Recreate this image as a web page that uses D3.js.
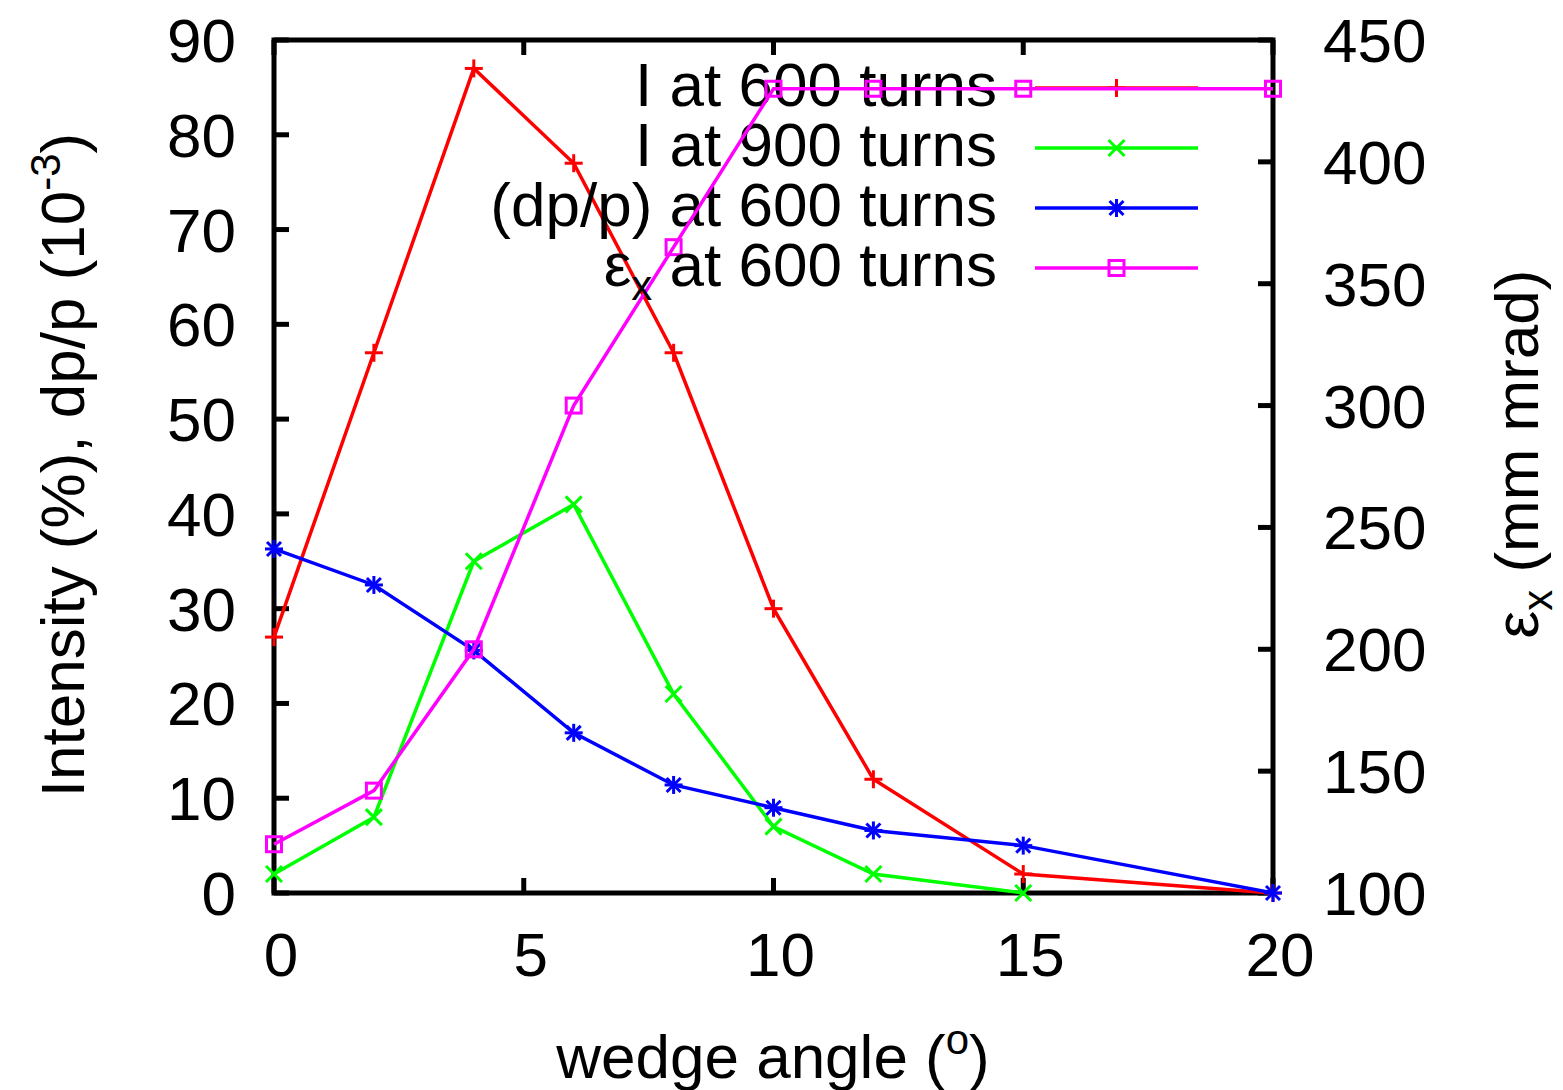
<!DOCTYPE html>
<html>
<head>
<meta charset="utf-8">
<script src="https://cdn.jsdelivr.net/npm/d3@7"></script>
<style>
  html, body { margin: 0; padding: 0; background: #fff; }
  svg { display: block; }
  text { font-family: "Liberation Sans", Arial, sans-serif; fill: #000; }
</style>
</head>
<body>
<svg id="chart" width="1563" height="1090"></svg>
<script>
// wedge angle (degrees)
const angles = [0, 2, 4, 6, 8, 10, 12, 15, 20];
// Intensity at 600 turns (%)
const intensity600 = [27, 57, 87, 77, 57, 30, 12, 2, 0];
// Intensity at 900 turns (%)
const intensity900 = [2, 8, 35, 41, 21, 7, 2, 0];
// momentum spread dp/p at 600 turns (1e-3)
const dpp600 = [36.3, 32.5, 25.6, 16.9, 11.4, 9.0, 6.6, 5.0, 0];
// horizontal emittance at 600 turns (mm mrad), right axis
const emit600 = [120, 142, 200, 300, 365, 430, 430, 430, 430];

const xTicks = [0, 5, 10, 15, 20];
const yTicks = [0, 10, 20, 30, 40, 50, 60, 70, 80, 90];
const y2Ticks = [100, 150, 200, 250, 300, 350, 400, 450];

const seriesNames = ["I at 600 turns", "I at 900 turns", "(dp/p) at 600 turns", "at 600 turns"];
const seriesColors = ["#ff0000", "#00ff00", "#0000ff", "#ff00ff"];

const svg = d3.select("#chart");
const plotL = 274, plotR = 1273, plotT = 40, plotB = 893;

const x = d3.scaleLinear().domain([0, 20]).range([plotL, plotR]);
const y = d3.scaleLinear().domain([0, 90]).range([plotB, plotT]);
const y2 = d3.scaleLinear().domain([100, 450]).range([plotB, plotT]);

const FS = 62;
const SUB = 42;
const tickLen = 15;

// tick labels
svg.append("g").selectAll("text").data(xTicks).join("text")
  .attr("x", d => x(d) + 7).attr("y", 976)
  .attr("text-anchor", "middle").attr("font-size", FS).text(d => d);

svg.append("g").selectAll("text").data(yTicks).join("text")
  .attr("x", 236).attr("y", d => y(d) + 22)
  .attr("text-anchor", "end").attr("font-size", FS).text(d => d);

svg.append("g").selectAll("text").data(y2Ticks).join("text")
  .attr("x", 1323).attr("y", d => y2(d) + 22)
  .attr("text-anchor", "start").attr("font-size", FS).text(d => d);

// inward tick marks
const ticks = svg.append("g").attr("stroke", "#000").attr("stroke-width", 5);
xTicks.forEach(d => {
  ticks.append("line").attr("x1", x(d)).attr("x2", x(d)).attr("y1", plotB).attr("y2", plotB - tickLen);
  ticks.append("line").attr("x1", x(d)).attr("x2", x(d)).attr("y1", plotT).attr("y2", plotT + tickLen);
});
yTicks.forEach(d => {
  ticks.append("line").attr("x1", plotL).attr("x2", plotL + tickLen).attr("y1", y(d)).attr("y2", y(d));
});
y2Ticks.forEach(d => {
  ticks.append("line").attr("x1", plotR).attr("x2", plotR - tickLen).attr("y1", y2(d)).attr("y2", y2(d));
});

// frame
svg.append("rect").attr("x", plotL).attr("y", plotT)
  .attr("width", plotR - plotL).attr("height", plotB - plotT)
  .attr("fill", "none").attr("stroke", "#000").attr("stroke-width", 5);

// axis titles
const xl = svg.append("text").attr("x", 773).attr("y", 1078)
  .attr("text-anchor", "middle").attr("font-size", FS);
xl.append("tspan").text("wedge angle (");
xl.append("tspan").attr("dy", -24).attr("font-size", SUB).text("o");
xl.append("tspan").attr("dy", 24).text(")");

const yl = svg.append("text")
  .attr("transform", "translate(84,465) rotate(-90)")
  .attr("text-anchor", "middle").attr("font-size", FS);
yl.append("tspan").text("Intensity (%), dp/p (10");
yl.append("tspan").attr("dy", -24).attr("font-size", SUB).text("-3");
yl.append("tspan").attr("dy", 24).text(")");

const y2l = svg.append("text")
  .attr("transform", "translate(1538,454) rotate(-90)")
  .attr("text-anchor", "middle").attr("font-size", FS);
y2l.append("tspan").text("\u03b5");
y2l.append("tspan").attr("dy", 14).attr("font-size", SUB).text("x");
y2l.append("tspan").attr("dy", -14).text(" (mm mrad)");

// marker shapes
function marker(g, kind, color, cx, cy) {
  const s = 9;
  const m = g.append("g").attr("stroke", color).attr("stroke-width", 3).attr("fill", "none");
  if (kind === "plus" || kind === "star") {
    m.append("line").attr("x1", cx - s).attr("x2", cx + s).attr("y1", cy).attr("y2", cy);
    m.append("line").attr("x1", cx).attr("x2", cx).attr("y1", cy - s).attr("y2", cy + s);
  }
  if (kind === "cross" || kind === "star") {
    const c = kind === "star" ? 7 : 8;
    m.append("line").attr("x1", cx - c).attr("x2", cx + c).attr("y1", cy - c).attr("y2", cy + c);
    m.append("line").attr("x1", cx - c).attr("x2", cx + c).attr("y1", cy + c).attr("y2", cy - c);
  }
  if (kind === "square") {
    m.append("rect").attr("x", cx - 7.5).attr("y", cy - 7.5).attr("width", 15).attr("height", 15);
  }
}

const series = [
  { values: intensity600, scale: y, kind: "plus" },
  { values: intensity900, scale: y, kind: "cross" },
  { values: dpp600, scale: y, kind: "star" },
  { values: emit600, scale: y2, kind: "square" }
];

const plot = svg.append("g");
const legendTextX = 997, legendLineX1 = 1035, legendLineX2 = 1198;
const legendRows = [88, 148, 208, 268];

series.forEach((s, i) => {
  const pts = s.values.map((v, j) => [angles[j], v]);
  const line = d3.line().x(d => x(d[0])).y(d => s.scale(d[1]));
  const g = plot.append("g");
  g.append("path").attr("d", line(pts)).attr("fill", "none")
    .attr("stroke", seriesColors[i]).attr("stroke-width", 3.5);
  pts.forEach(p => marker(g, s.kind, seriesColors[i], x(p[0]), s.scale(p[1])));

  // key entry
  const ly = legendRows[i];
  const t = g.append("text").attr("x", legendTextX).attr("y", ly + 18)
    .attr("text-anchor", "end").attr("font-size", FS);
  if (i === 3) {
    t.append("tspan").text("\u03b5");
    t.append("tspan").attr("dy", 14).attr("font-size", SUB).text("x");
    t.append("tspan").attr("dy", -14).text(" " + seriesNames[i]);
  } else {
    t.text(seriesNames[i]);
  }
  g.append("line").attr("x1", legendLineX1).attr("x2", legendLineX2)
    .attr("y1", ly).attr("y2", ly).attr("stroke", seriesColors[i]).attr("stroke-width", 3.5);
  marker(g, s.kind, seriesColors[i], (legendLineX1 + legendLineX2) / 2, ly);
});
</script>
</body>
</html>
